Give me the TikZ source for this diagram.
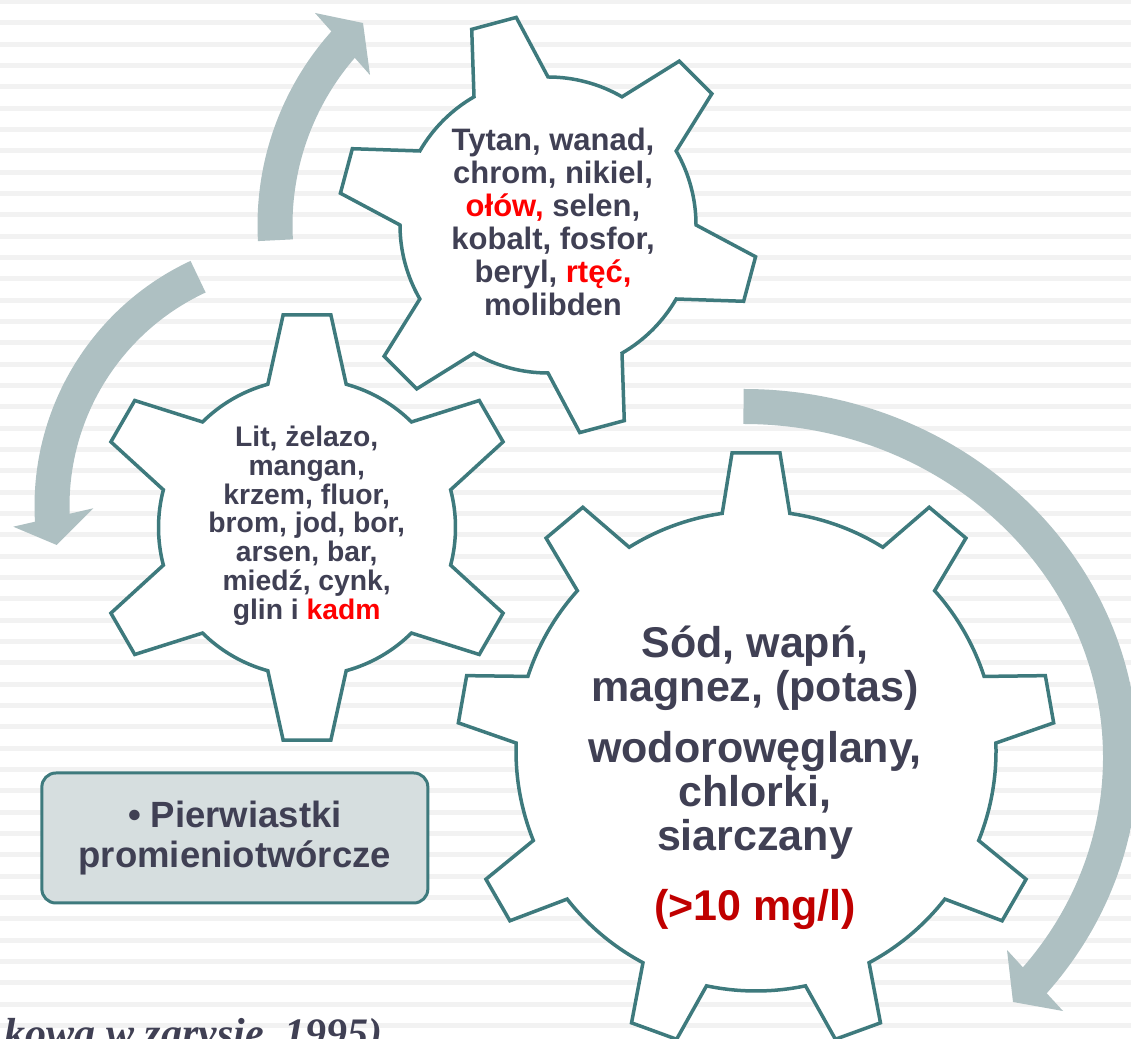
\documentclass[tikz,border=0pt]{standalone}
\usepackage{fontspec}
\setmainfont{Liberation Sans}
\newfontfamily\zrodlofont{Liberation Serif}
\usepackage{tikz}
\usetikzlibrary{
    calc                              % arytmetyka wspolrzednych
}
\definecolor{gearline}{RGB}{62,122,125}
\definecolor{bandgray}{RGB}{174,192,194}
\definecolor{textslate}{RGB}{64,64,84}
\definecolor{boxfill}{RGB}{214,222,223}
\definecolor{stripegray}{RGB}{242,242,242}
\definecolor{redhi}{RGB}{255,0,0}
\definecolor{darkred}{RGB}{192,0,0}
\tikzset{
    gear/.style={
        draw=gearline, line width=3.5pt, fill=white, line join=miter
    },
    band/.style={
        draw=bandgray, line width=35pt
    },
    head/.style={
        fill=bandgray
    },
    gtext/.style={
        align=center, text=textslate, inner sep=0pt
    }
}

\begin{document}
\begin{tikzpicture}[
        x=1pt, y=1pt,
        box/.style={draw=gearline, line width=3pt, fill=boxfill, rounded corners=14pt,
            minimum width=386pt, minimum height=130pt, align=center, text=textslate,
            font=\bfseries\fontsize{36.5}{39.3}\selectfont},
        source/.style={text=textslate, inner sep=0pt,
            font=\zrodlofont\bfseries\itshape\fontsize{42}{46}\selectfont}]

    \useasboundingbox (0,0) rectangle (1131,1038);
    \clip (0,0) rectangle (1131,1038);

    % tlo w paski
    \fill[white] (0,0) rectangle (1131,1038);
    \foreach \k in {0,...,48}
        \fill[stripegray] (0,{1039-21.33*\k}) rectangle (1131,{1034-21.33*\k});

    % srodki kol
    \coordinate (cTop) at (548,813);
    \coordinate (cMid) at (307,510.5);
    \coordinate (cBig) at (756,287);
    \coordinate (cL)   at (305,532);
    \coordinate (cR)   at (743.5,280.5);

    % strzalki obiegu
    \draw[band] ($(cTop)+(183.2:273)$) arc[start angle=183.2, end angle=137.5, radius=273];
    \fill[head] (315,1025) -- (363,1015) -- (370,963) -- cycle;

    \draw[band] ($(cL)+(115:253)$) arc[start angle=115, end angle=183.6, radius=253];
    \fill[head] (13.3,511.3) -- (56.7,493) -- (93.3,529.7) -- cycle;

    \draw[band] ($(cR)+(0,351)$) arc[start angle=90, end angle=-40.5, x radius=377, y radius=351];
    \fill[head] (1007,88) -- (1013,36) -- (1063,27) -- cycle;

    % kolo gorne (6 zebow)
    \draw[gear, shift={(cTop)}] ({45-15}:148)
        \foreach \a in {45,105,...,345}{
            -- ({\a-6.3}:210) -- ({\a+6.3}:210) -- ({\a+15}:148)
            arc[start angle=\a+15, end angle=\a+45, radius=148]
        } -- cycle;

    % kolo srodkowe (6 zebow)
    \draw[gear, shift={(cMid)}] ({30-15.3}:148.5)
        \foreach \a in {30,90,...,330}{
            -- ({\a-6.4}:214) -- ({\a+6.4}:214) -- ({\a+15.3}:148.5)
            arc[start angle=\a+15.3, end angle=\a+44.7, radius=148.5]
        } -- cycle;

    % kolo duze (9 zebow)
    \draw[gear, shift={(cBig)}] ({90-8.1}:240)
        \foreach \a in {90,130,...,410}{
            -- ({\a-4.6}:299) -- ({\a+4.6}:299) -- ({\a+8.1}:240)
            arc[start angle=\a+8.1, end angle=\a+31.9, radius=240]
        } -- cycle;

    % napisy w kolach
    \node[gtext, font=\bfseries\fontsize{31}{32.9}\selectfont] (txtTop) at (553,815.9)
        {Tytan, wanad,\\chrom, nikiel,\\\textcolor{redhi}{ołów,} selen,\\kobalt, fosfor,\\beryl, \textcolor{redhi}{rtęć,}\\molibden};
    \node[gtext, font=\bfseries\fontsize{28.3}{28.7}\selectfont] (txtMid) at (306.7,512.3)
        {Lit, żelazo,\\mangan,\\krzem, fluor,\\brom, jod, bor,\\arsen, bar,\\miedź, cynk,\\glin i \textcolor{redhi}{kadm}};
    \node[gtext, font=\bfseries\fontsize{43}{44}\selectfont] (txtBig) at (755,260)
        {Sód, wapń,\\magnez, (potas)\\[17pt]wodorowęglany,\\chlorki,\\siarczany\\[26pt]\textcolor{darkred}{(>10 mg/l)}};

    % ramka
    \node[box] (radio) at (234.85,200) {• Pierwiastki\\promieniotwórcze};

    % zrodlo
    \node[source, anchor=base east] (zrodlo) at (383,-9.7) {kowa w zarysie, 1995)};
\end{tikzpicture}
\end{document}
